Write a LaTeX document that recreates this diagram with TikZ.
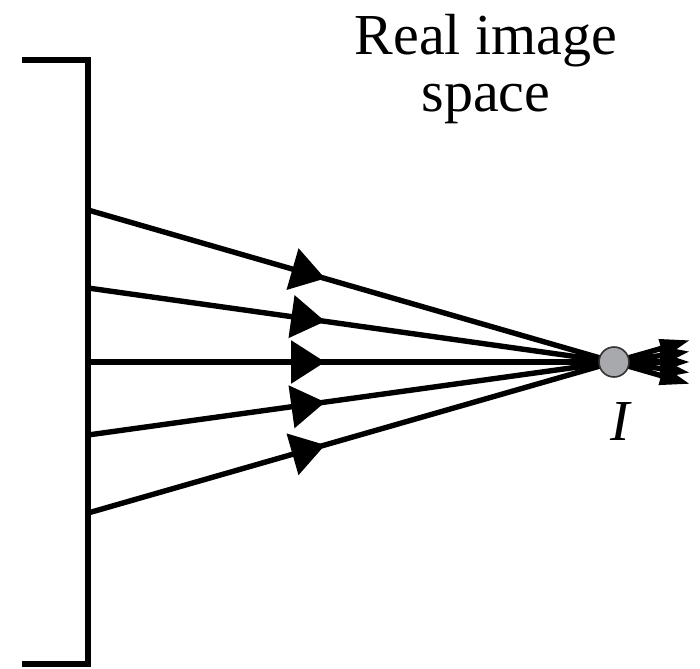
\documentclass[tikz,border=0pt]{standalone}
\usepackage{fontspec}
\setmainfont{Liberation Serif}
\usetikzlibrary{arrows.meta, calc, decorations.markings}
\definecolor{imggray}{HTML}{A7A9AC}

\begin{document}
\begin{tikzpicture}[
    x=0.5pt, y=-0.5pt,
    mirror/.style={line width=2.8pt, line cap=butt, line join=miter},
    ray/.style={line width=2.7pt, -{Triangle[length=15pt, width=9pt]},
                postaction={decorate}, decoration={markings,
                mark=at position 0.394 with {\arrow{Triangle[length=17pt, width=21pt]}}}},
    focus/.style={circle, fill=imggray, draw=black!80, line width=0.8pt,
                  minimum size=15pt, inner sep=0pt},
    lbl/.style={font=\fontsize{29}{28.5}\selectfont, align=center}
]
\useasboundingbox (0,0) rectangle (700,668);
% object side
\draw[mirror] (22,60) -| (88,664) -- (22,664);
\coordinate (f) at (614,362);
\foreach \y [count=\i] in {210,288,362,435,513}
    \coordinate (s\i) at (88,\y);
% rays through the image point
\foreach \i in {1,...,5}
    \draw[ray] (s\i) -- ($(s\i)!1.1445!(f)$);
\node[focus] (I) at (f) {};
\node[lbl, anchor=base] (title) at (486,112) {Real image\\space};
\node[lbl, anchor=base] (Ilabel) at (621,440) {\textit{I}};
\end{tikzpicture}
\end{document}
